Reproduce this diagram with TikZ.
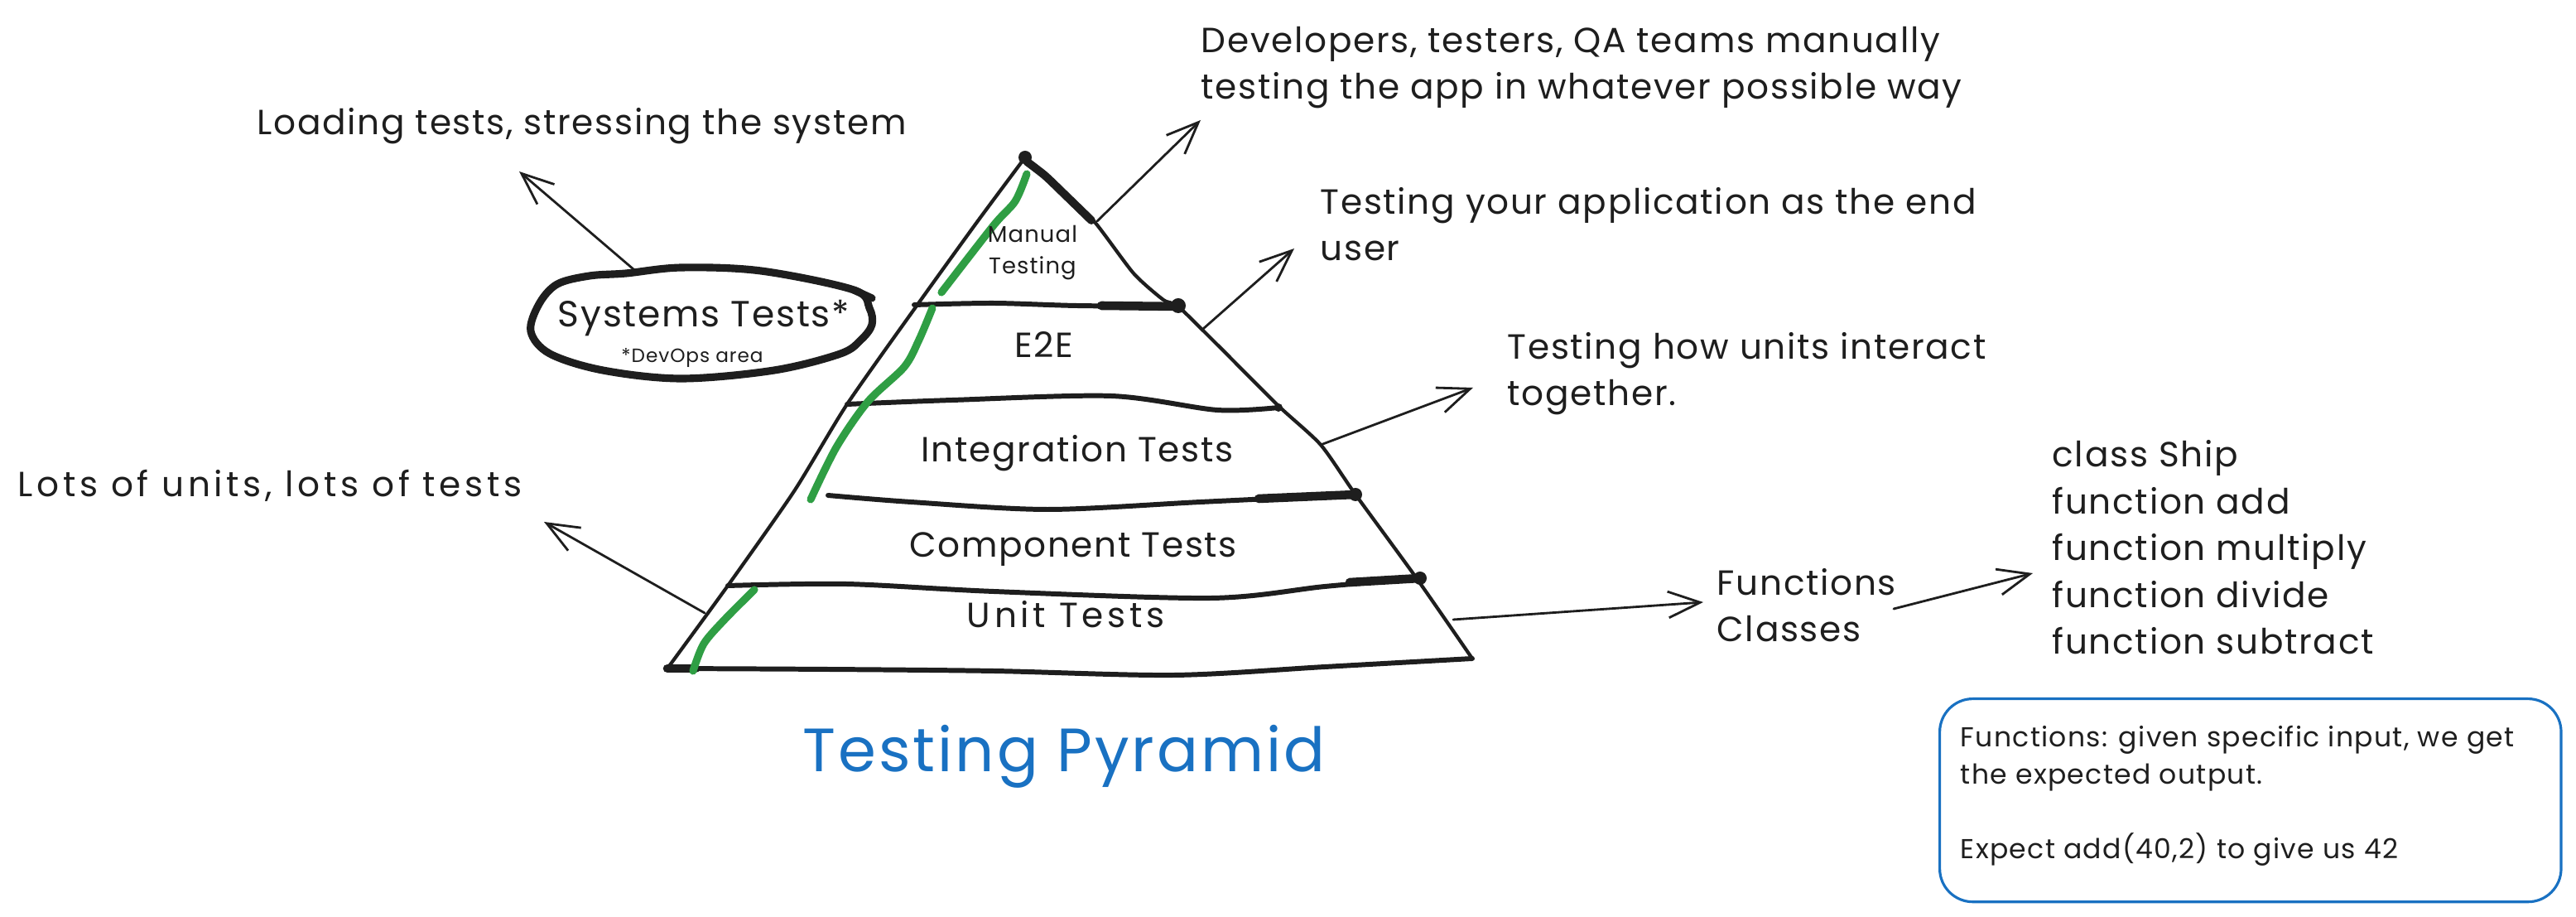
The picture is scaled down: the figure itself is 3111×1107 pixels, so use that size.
\documentclass[tikz,border=0pt]{standalone}
\usepackage{fontspec}
\setmainfont{Poppins}[LetterSpace=4]
\usetikzlibrary{arrows.meta}
\definecolor{ink}{HTML}{1E1E1E}
\definecolor{grn}{HTML}{2F9E44}
\definecolor{blu}{HTML}{1971C2}
\begin{document}
\begin{tikzpicture}[x=0.01cm,y=-0.01cm,
  edgeline/.style={draw=ink,line width=1.2pt,line cap=round,line join=round},
  band/.style={draw=ink,line width=1.7pt,line cap=round,line join=round},
  bandend/.style={draw=ink,line width=3pt,line cap=round},
  blob/.style={fill=ink},
  hilite/.style={draw=grn,line width=2.6pt,line cap=round,line join=round},
  arrowline/.style={draw=ink,line width=0.8pt,line cap=round,-{Straight Barb[length=11pt,width=9pt,line width=0.8pt]}},
  body/.style={font=\fontsize{12}{16.1}\selectfont,text=ink,inner sep=0pt,align=left,anchor=base west},
  widebody/.style={font=\fontsize{12}{16.1}\selectfont\addfontfeatures{LetterSpace=11},text=ink,inner sep=0pt,align=left,anchor=base west},
  layer/.style={font=\fontsize{12}{16.1}\selectfont,text=ink,inner sep=0pt,anchor=base},
  widelayer/.style={font=\fontsize{12}{16.1}\selectfont\addfontfeatures{LetterSpace=11},text=ink,inner sep=0pt,anchor=base},
  smalllayer/.style={font=\fontsize{7.8}{11}\selectfont,text=ink,inner sep=0pt,anchor=base,align=center},
  tiny/.style={font=\fontsize{6.6}{8}\selectfont,text=ink,inner sep=0pt,anchor=base},
  boxtext/.style={font=\fontsize{9.4}{12.8}\selectfont,text=ink,inner sep=0pt,align=left,anchor=base west},
  titletext/.style={font=\fontsize{21}{25}\selectfont,text=blu,inner sep=0pt,anchor=base},
  sysline/.style={draw=ink,line width=2.6pt,line cap=round,line join=round},
  framebox/.style={draw=blu,line width=0.9pt,rounded corners=0.4cm,minimum width=7.5cm,minimum height=2.45cm,anchor=north west,inner sep=0pt}
]
\useasboundingbox (0,0) rectangle (3111,1107);

% ---------- pyramid outline ----------
\draw[edgeline] plot[smooth,tension=0.4] coordinates {(1238,190) (1180,268) (1110,365) (1023,488) (959,593) (879,707) (806,807)};
\draw[edgeline] plot[smooth,tension=0.4] coordinates {(1238,190) (1262,212) (1284,233) (1322,268) (1369,330) (1405,362) (1423,370) (1472,418) (1544,490) (1595,537) (1637,597) (1710,697) (1778,795)};
\draw[draw=ink,line width=2.8pt,line cap=round,line join=round] plot[smooth,tension=0.4] coordinates {(1240,195) (1262,212) (1284,233) (1318,266)};

% ---------- bands ----------
\draw[band] plot[smooth,tension=0.5] coordinates {(1104,368) (1200,366) (1300,369) (1423,370)};
\draw[bandend] (1330,369) -- (1423,370);
\draw[band] plot[smooth,tension=0.5] coordinates {(1023,488) (1150,483) (1342,478) (1470,495) (1544,492)};
\draw[band] plot[smooth,tension=0.5] coordinates {(1000,598) (1100,606) (1265,615) (1450,606) (1637,597)};
\draw[bandend] (1520,602) -- (1637,597);
\draw[band] plot[smooth,tension=0.5] coordinates {(879,707) (1022,705) (1200,714) (1463,722) (1600,708) (1715,698)};
\draw[bandend] (1630,703) -- (1715,698);
\draw[band] plot[smooth,tension=0.5] coordinates {(806,807) (1000,808) (1200,810) (1418,815) (1600,805) (1778,795)};
\draw[bandend] (806,807) -- (840,807);

\fill[blob] (1238,190) circle[radius=0.08cm];
\fill[blob] (1423,369) circle[radius=0.09cm];
\fill[blob] (1637,597) circle[radius=0.08cm];
\fill[blob] (1715,698) circle[radius=0.08cm];
\fill[blob] (1544,492) circle[radius=0.05cm];

% ---------- green highlight ----------
\draw[hilite] plot[smooth,tension=0.5] coordinates {(1240,210) (1226,243) (1200,272) (1137,353)};
\draw[hilite] plot[smooth,tension=0.5] coordinates {(1126,372) (1110,410) (1092,443) (1048,485) (1010,540) (979,603)};
\draw[hilite] plot[smooth,tension=0.5] coordinates {(911,712) (876,747) (850,777) (837,810)};

% ---------- pyramid labels ----------
\node[smalllayer] (manual) at (1247,331) {Manual\\Testing};
\node[layer] (e2e) at (1261,432) {E2E};
\node[layer] (integ) at (1301,558) {Integration Tests};
\node[layer] (comp) at (1296,673) {Component Tests};
\node[widelayer] (unit) at (1287,758) {Unit Tests};

% ---------- systems tests bubble ----------
\draw[sysline] plot[smooth cycle,tension=0.55] coordinates {(756,330) (823,323) (919,327) (1031,350) (1050,372) (1053,392) (1040,410) (1015,427) (935,447) (823,457) (728,447) (664,427) (641,400) (651,367) (673,343) (712,333)};
\draw[sysline] (1031,350) -- (1053,360);
\node[layer,font=\fontsize{12.5}{16}\selectfont] (sys) at (850,395) {Systems Tests*};
\node[tiny] (devops) at (836,438) {*DevOps area};

% ---------- annotation texts ----------
\node[body] (load) at (310,163) {Loading tests, stressing the system};
\node[body] (dev) at (1450,120) {Developers, testers, QA teams manually\\testing the app in whatever possible way};
\node[body] (endnote) at (1594,315) {Testing your application as the end\\user};
\node[body] (intnote) at (1820,490) {Testing how units interact\\together.};
\node[widebody] (lots) at (21,600) {Lots of units, lots of tests};
\node[body] (fc) at (2073,775) {Functions\\Classes};
\node[body] (list) at (2478,790) {class Ship\\function add\\function multiply\\function divide\\function subtract};

% ---------- arrows ----------
\coordinate (a1s) at (1325,267); \coordinate (a1e) at (1450,145);
\coordinate (a2s) at (1453,397); \coordinate (a2e) at (1563,300);
\coordinate (a3s) at (1595,537); \coordinate (a3e) at (1779,468);
\coordinate (a4s) at (1755,748); \coordinate (a4e) at (2057,727);
\coordinate (a5s) at (2287,735); \coordinate (a5e) at (2455,692);
\coordinate (a6s) at (851,740);  \coordinate (a6e) at (657,630);
\coordinate (a7s) at (765,325);  \coordinate (a7e) at (627,207);
\draw[arrowline] (a1s) -- (a1e);
\draw[arrowline] (a2s) -- (a2e);
\draw[arrowline] (a3s) -- (a3e);
\draw[arrowline] (a4s) -- (a4e);
\draw[arrowline] (a5s) -- (a5e);
\draw[arrowline] (a6s) -- (a6e);
\draw[arrowline] (a7s) -- (a7e);

% ---------- title ----------
\node[titletext] (title) at (1285,932) {Testing Pyramid};

% ---------- note box ----------
\node[framebox] (box) at (2341,842) {};
\node[boxtext] (boxnote) at (2367,1037) {Functions: given specific input, we get\\the expected output.\\[12.8pt]Expect add(40,2) to give us 42};
\end{tikzpicture}
\end{document}
